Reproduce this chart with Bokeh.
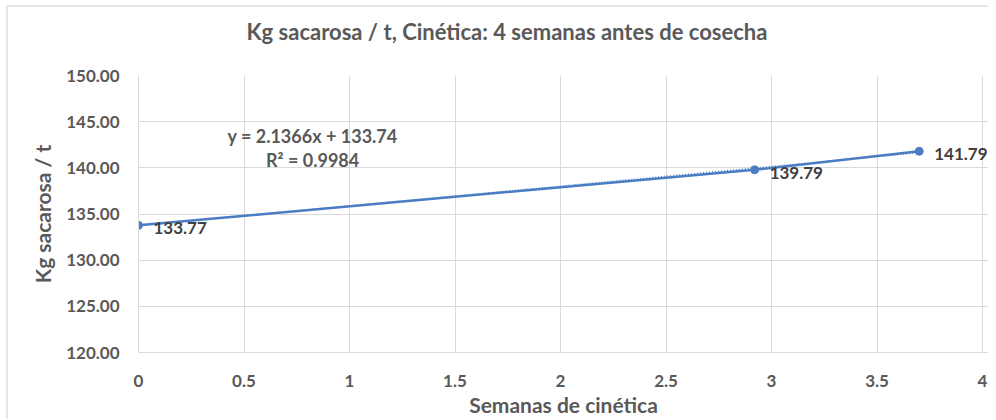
from bokeh.plotting import figure
from bokeh.models import (ColumnDataSource, Label, Title, SingleIntervalTicker,
                          CustomJSTickFormatter, NumeralTickFormatter, Range1d)
from bokeh.embed import file_html
from bokeh.resources import INLINE

# data
weeks = [0.0, 2.92, 3.70]
sucrose = [133.77, 139.79, 141.79]
labels = ["133.77", "139.79", "141.79"]
slope = 2.1366
intercept = 133.74
r2 = 0.9984
title_text = "Kg sacarosa / t, Cinética: 4 semanas antes de cosecha"
x_title = "Semanas de cinética"
y_title = "Kg sacarosa / t"

FONT = "Lato"
GRAY = "#595959"
BLUE = "#4a7dc4"

# small extra room past x=4 so the last data label is not clipped
p = figure(width=980, height=409, output_backend="svg", toolbar_location=None,
           x_range=Range1d(0, 4.0284), y_range=Range1d(120, 150),
           frame_width=850, frame_height=277,
           min_border_left=130, min_border_right=0, min_border_top=68, min_border_bottom=64)
p.styles = {"margin-left": "6px", "margin-top": "5px",
            "border-left": "2px solid #e6e6e6", "border-top": "2px solid #e6e6e6"}

# spacer between frame and title (added first -> closest to the frame)
p.add_layout(Title(text=" ", text_font=FONT, text_font_size="16px", standoff=5), "above")
t = Title(text=title_text, align="left", offset=108, text_font=FONT, text_font_size="22px",
          text_color=GRAY, text_font_style="bold", standoff=10)
p.add_layout(t, "above")

p.outline_line_color = None
p.xgrid.grid_line_color = "#d9d9d9"
p.ygrid.grid_line_color = "#d9d9d9"
p.xaxis.ticker = SingleIntervalTicker(interval=0.5)
p.yaxis.ticker = SingleIntervalTicker(interval=5)
p.xaxis.formatter = CustomJSTickFormatter(code="return String(Math.round(tick*10)/10);")
p.yaxis.formatter = NumeralTickFormatter(format="0.00")
for ax in (p.xaxis[0], p.yaxis[0]):
    ax.axis_line_color = "#d9d9d9"
    ax.major_tick_line_color = None
    ax.minor_tick_line_color = None
    ax.major_label_text_font = FONT
    ax.major_label_text_font_size = "17px"
    ax.major_label_text_font_style = "bold"
    ax.major_label_text_color = GRAY
    ax.axis_label_text_font = FONT
    ax.axis_label_text_font_style = "bold"
    ax.axis_label_text_color = GRAY
p.xaxis.axis_label_text_font_size = "21px"
p.yaxis.axis_label_text_font_size = "21px"
p.xaxis.axis_label = x_title
p.yaxis.axis_label = y_title
p.xaxis.major_label_standoff = 16
p.yaxis.major_label_standoff = 13
p.xaxis.axis_label_standoff = 2
p.yaxis.axis_label_standoff = 8

src = ColumnDataSource(dict(x=weeks, y=sucrose, lab=labels))
p.line("x", "y", source=src, line_color=BLUE, line_width=2.5)
p.scatter("x", "y", source=src, size=8, fill_color=BLUE, line_color=BLUE)

tx = [weeks[0], weeks[-1]]
ty = [intercept + slope * v for v in tx]
p.line(tx, ty, line_color=BLUE, line_width=1.5, line_dash="1 2")

for xv, yv, lab in zip(weeks, sucrose, labels):
    p.add_layout(Label(x=xv, y=yv, text=lab, x_offset=15, y_offset=-3,
                       text_baseline="middle", text_font=FONT, text_font_size="17px",
                       text_font_style="bold", text_color="#404040"))

p.add_layout(Label(x=0.825, y=143.5, text=f"y = {slope}x + {intercept}", text_align="center",
                   text_baseline="middle", text_font=FONT, text_font_size="18px",
                   text_font_style="bold", text_color=GRAY))
p.add_layout(Label(x=0.825, y=140.8, text=f"R² = {r2}", text_align="center",
                   text_baseline="middle", text_font=FONT, text_font_size="18px",
                   text_font_style="bold", text_color=GRAY))

open("out.html", "w").write(file_html(p, INLINE))
